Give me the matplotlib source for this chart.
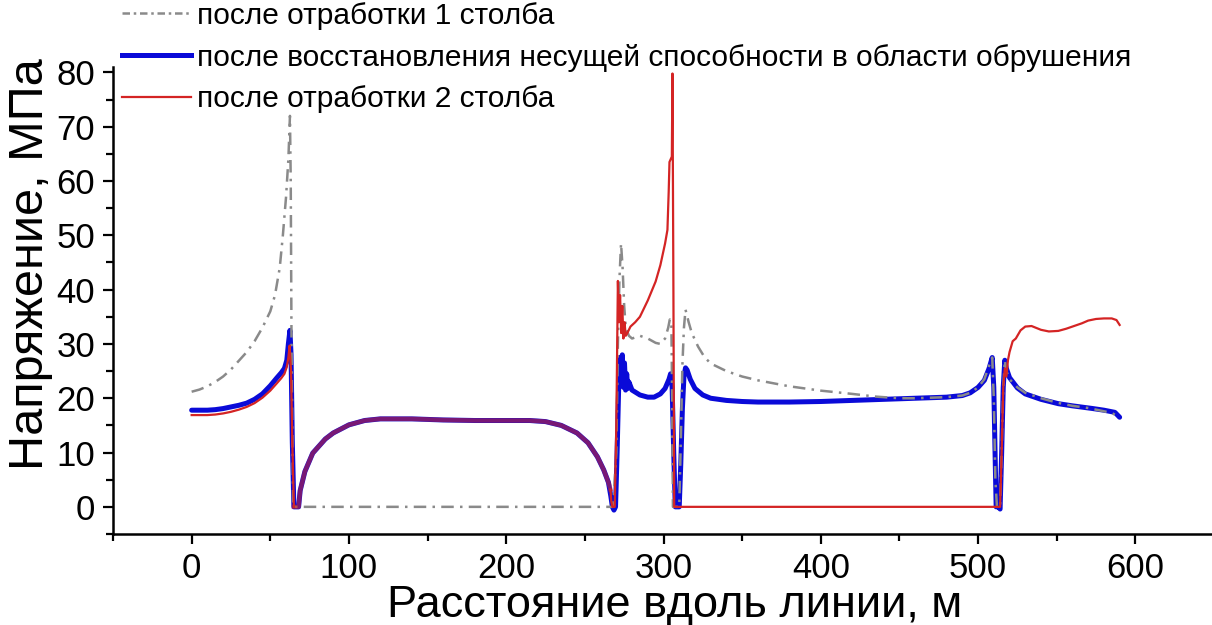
import numpy as np
import matplotlib
matplotlib.use("Agg")
import matplotlib.pyplot as plt
from matplotlib.ticker import MultipleLocator
from matplotlib.lines import Line2D

plt.rcParams['font.family'] = ['Liberation Sans', 'DejaVu Sans']

# --- after working out pillar 1 (grey, dash-dot) ---
x_p1 = [0, 5, 10, 15, 20, 25, 30, 35, 40, 45, 50, 53, 56, 58, 60, 61.5, 62.5,
        63, 63.5, 64.5, 66, 100, 150, 200, 250, 268, 270, 271, 272, 273, 274,
        275, 276, 278, 280, 285, 290, 295, 298, 301, 303, 304, 305, 305.5, 306,
        310, 311, 312, 313, 314, 316, 318, 322, 326, 330, 340, 350, 360, 380,
        400, 420, 435, 450, 460, 480, 490, 495, 500, 504, 507, 509, 510, 511,
        512, 514, 515, 516, 517, 518, 520, 525, 530, 540, 550, 560, 570, 580,
        585, 588, 590]
y_p1 = [21.2, 21.6, 22.2, 23.0, 24.0, 25.3, 26.9, 28.5, 30.5, 33.0, 36.0, 39.0,
        44.0, 50.0, 57.0, 64.0, 72.0, 60.0, 30.0, 0.0, 0.0, 0.0, 0.0, 0.0, 0.0,
        0.0, 10.0, 30.0, 42.0, 48.5, 44.0, 37.0, 33.0, 31.5, 31.0, 31.5, 31.0,
        30.2, 30.0, 31.0, 33.0, 34.5, 34.0, 20.0, 0.0, 0.0, 12.0, 26.0, 33.0,
        36.3, 34.0, 32.0, 29.5, 27.6, 26.4, 25.0, 24.0, 23.3, 22.2, 21.4, 20.8,
        20.3, 20.0, 20.0, 20.2, 20.5, 21.0, 22.0, 23.5, 26.0, 27.5, 20.0, 5.0,
        0.0, 0.0, 10.0, 22.0, 27.0, 25.0, 23.5, 22.0, 21.0, 20.0, 19.2, 18.6,
        18.2, 17.6, 17.3, 16.8, 16.3]

# --- after restoring bearing capacity in the collapse zone (blue) ---
x_rest = [0, 10, 15, 20, 25, 30, 35, 40, 45, 50, 54, 57, 59, 60.5, 61.5, 62.5,
          63.2, 64, 65, 68, 69, 72, 77, 85, 90, 100, 110, 120, 140, 160, 180,
          200, 215, 225, 235, 245, 252, 258, 262, 265, 266.5, 267.5, 268.5,
          269.5, 270.5, 271.5, 272.5, 273.2, 273.8, 274.5, 275.2, 275.9, 276.6,
          277.3, 278, 280, 285, 290, 294, 298, 301, 303.5, 304.5, 305.5, 306.5,
          307.5, 310, 311, 312, 313, 314, 315, 317, 320, 325, 330, 340, 350,
          360, 380, 400, 420, 440, 460, 480, 490, 495, 500, 504, 507, 509, 510,
          510.8, 511.5, 513, 514, 515, 516, 517, 518, 520, 525, 530, 540, 551,
          560, 573, 580, 587, 590]
y_rest = [17.8, 17.8, 17.9, 18.1, 18.4, 18.7, 19.1, 19.8, 20.8, 22.3, 23.7,
          24.7, 25.5, 27.0, 30.0, 32.5, 28.0, 12.0, 0.0, 0.0, 3.0, 6.5, 9.9,
          12.5, 13.6, 15.1, 15.9, 16.2, 16.2, 16.0, 15.9, 15.9, 15.9, 15.7,
          15.0, 13.6, 11.8, 9.2, 6.8, 4.5, 2.0, 0.0, -0.6, 0.0, 10.0, 22.0,
          27.5, 22.5, 28.0, 22.0, 26.5, 21.5, 24.5, 21.8, 23.0, 21.5, 20.6,
          20.2, 20.2, 20.8, 21.8, 23.5, 24.5, 22.0, 10.0, 0.0, 0.0, 8.0, 18.0,
          24.0, 25.6, 25.2, 23.5, 21.8, 20.6, 20.0, 19.6, 19.4, 19.3, 19.3,
          19.4, 19.6, 19.8, 20.0, 20.2, 20.5, 21.0, 22.0, 23.3, 25.5, 27.5,
          22.0, 10.0, 0.0, 0.0, -0.4, 10.0, 22.0, 27.0, 25.5, 23.8, 21.9, 20.8,
          19.8, 19.0, 18.6, 18.1, 17.8, 17.4, 16.5]

# --- after working out pillar 2 (red) ---
x_p2 = [0, 10, 15, 20, 25, 30, 35, 40, 45, 50, 54, 57, 59, 60.5, 61.5, 62.3,
        63.2, 64, 65, 68, 69, 72, 77, 85, 90, 100, 110, 120, 140, 160, 180,
        200, 215, 225, 235, 245, 252, 258, 262, 265, 266.3, 266.8, 267.5, 269,
        270, 271, 271.7, 272.4, 273.1, 273.8, 274.5, 275.2, 276, 277, 279, 282,
        285, 290, 295, 298, 301, 302.5, 303.3, 303.8, 305.3, 305.7, 306.3,
        306.8, 310, 400, 512, 514, 515, 516, 517, 518, 519, 520, 522, 524, 527,
        530, 534, 540, 545, 551, 556, 561, 566, 570, 575, 580, 585, 588, 590]
y_p2 = [16.9, 16.9, 17.0, 17.2, 17.5, 17.9, 18.4, 19.1, 20.1, 21.4, 22.7,
        23.7, 24.5, 25.8, 27.5, 29.7, 25.0, 12.0, 0.0, 0.0, 3.0, 6.5, 9.9,
        12.5, 13.6, 15.1, 15.9, 16.2, 16.2, 16.0, 15.9, 15.9, 15.9, 15.7, 15.0,
        13.6, 11.8, 9.2, 6.8, 4.5, 3.2, 1.0, 0.0, 0.0, 15.0, 41.6, 34.0, 39.0,
        32.0, 37.0, 31.0, 34.0, 31.5, 32.0, 33.2, 34.0, 35.0, 38.0, 41.5, 44.5,
        48.5, 51.0, 58.0, 63.5, 64.5, 79.8, 40.0, 0.0, 0.0, 0.0, 0.0, 0.0,
        10.0, 22.0, 25.5, 24.0, 27.0, 28.5, 30.5, 31.0, 32.5, 33.2, 33.3,
        32.6, 32.3, 32.4, 32.8, 33.3, 33.8, 34.3, 34.6, 34.7, 34.7, 34.4, 33.5]

labels = ["после отработки 1 столба",
          "после восстановления несущей способности в области обрушения",
          "после отработки 2 столба"]
x_label = "Расстояние вдоль линии, м"
y_label = "Напряжение, МПа"

c_grey = "#8a8a8a"
c_blue = "#0a0ad8"
c_red = "#d42424"

fig = plt.figure(figsize=(12.12, 6.25), dpi=100)
ax = fig.add_axes([113 / 1212, 1 - 534 / 625, 1101 / 1212, (534 - 67) / 625])

xb, yb = np.array(x_rest), np.array(y_rest)
xg, yg = np.array(x_p1), np.array(y_p1)
xr, yr = np.array(x_p2), np.array(y_p2)

ax.plot(xb, yb, color=c_blue, lw=3.6, solid_capstyle='round', zorder=2)
ax.plot(xg, yg, color=c_grey, lw=1.8, dashes=(5, 2.5, 1, 2.5), zorder=3)

# red curve: where it runs along the blue one it is drawn wide and translucent
edge_l = np.searchsorted(xr, 64.5)
edge_r = np.searchsorted(xr, 266.3)
ax.plot(xr[:edge_l + 1], yr[:edge_l + 1], color=c_red, lw=1.6, zorder=4)
ax.plot(xr[edge_l:edge_r + 1], yr[edge_l:edge_r + 1], color=c_red, lw=3.2,
        alpha=0.55, zorder=4)
ax.plot(xr[edge_r:], yr[edge_r:], color=c_red, lw=1.6, zorder=4)

ax.set_xlim(-50, 650)
ax.set_ylim(-5, 81)
ax.xaxis.set_major_locator(MultipleLocator(100))
ax.xaxis.set_minor_locator(MultipleLocator(50))
ax.yaxis.set_major_locator(MultipleLocator(10))
ax.yaxis.set_minor_locator(MultipleLocator(5))
for s in ('top', 'right'):
    ax.spines[s].set_visible(False)
for s in ('left', 'bottom'):
    ax.spines[s].set_linewidth(1.8)
ax.tick_params(which='major', direction='out', length=7, width=1.6,
               labelsize=25, pad=6)
ax.tick_params(which='minor', direction='out', length=5, width=1.6)
ax.set_xlabel(x_label, fontsize=32.5, labelpad=0)
ax.set_ylabel(y_label, fontsize=35, labelpad=2)
ax.xaxis.label.set_x(0.51)
ax.yaxis.label.set_y(0.578)

handles = [Line2D([], [], color=c_grey, lw=1.8, dashes=(3, 1.5, 1, 1.5)),
           Line2D([], [], color=c_blue, lw=3.6),
           Line2D([], [], color=c_red, lw=1.6)]
fig.legend(handles, labels, loc='upper left', bbox_to_anchor=(122 / 1212, 0.997),
           frameon=False, fontsize=21.5, handlelength=2.3, handletextpad=0.2,
           labelspacing=0.46, borderpad=0, borderaxespad=0)

fig.savefig("out.png", dpi=100)
